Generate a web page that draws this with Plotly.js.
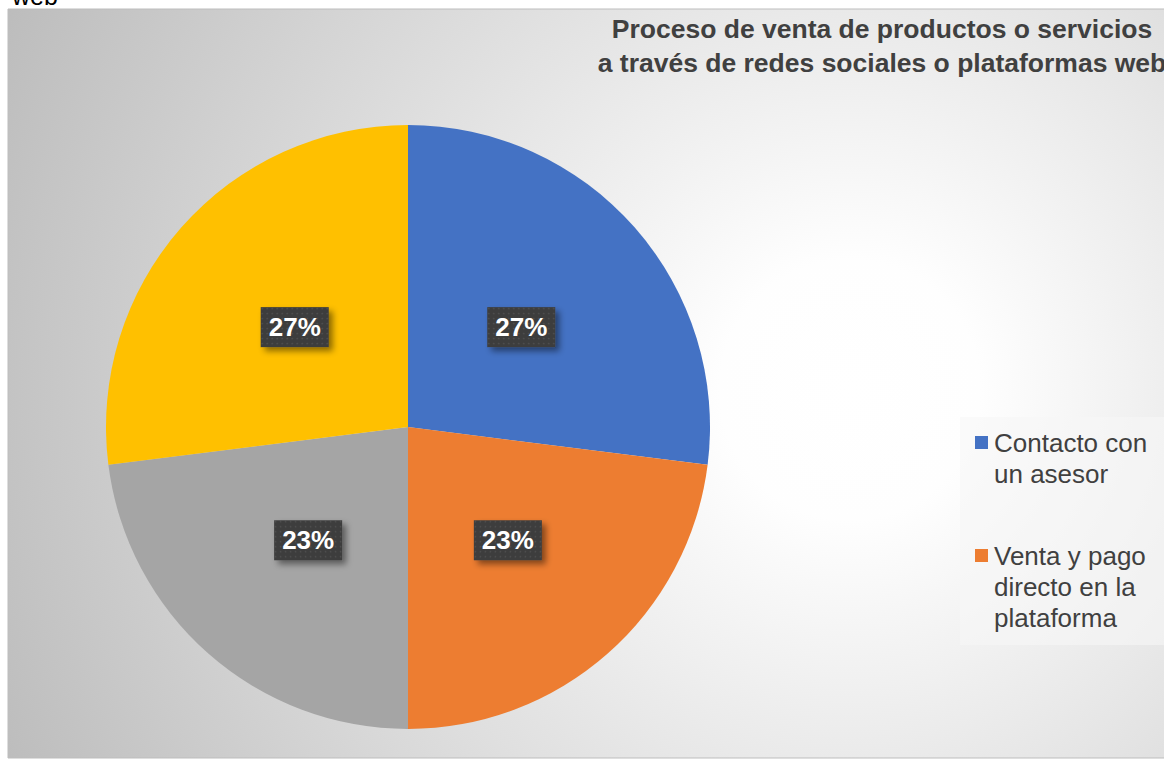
<!DOCTYPE html>
<html><head><meta charset="utf-8">
<script src="https://cdn.plot.ly/plotly-3.0.1.min.js"></script>
<style>html,body{margin:0;padding:0;background:#fff;overflow:hidden}#chart{width:1164px;height:760px}</style>
</head><body><div id="chart"></div>
<script>
// ---- data ----
const categories = ['Contacto con un asesor', 'Venta y pago directo en la plataforma', 'Otra modalidad', 'Ambas modalidades'];
const values = [27, 23, 23, 27];
const colors = ['#4472C4', '#ED7D31', '#A5A5A5', '#FFC000'];
const legendLines = [['Contacto con', 'un asesor'], ['Venta y pago', 'directo en la', 'plataforma']];
const titleText = 'Proceso de venta de productos o servicios<br>a través de redes sociales o plataformas web';
const clippedText = 'web';

// ---- layout helpers (pixels -> paper) ----
const W = 1164, H = 760;
const px = x => x / W;
const py = y => (H - y) / H;

// gradient background for the chart area
const fx0 = 8, fy0 = 9, fx1 = 1164, fy1 = 758;
const cv = document.createElement('canvas');
cv.width = fx1 - fx0; cv.height = fy1 - fy0;
const ctx = cv.getContext('2d');
const gcx = 850 - fx0, gcy = 390 - fy0;
const grad = ctx.createRadialGradient(gcx, gcy, 0, gcx, gcy, 930);
grad.addColorStop(0, '#ffffff');
grad.addColorStop(0.14, '#fefefe');
grad.addColorStop(0.5, '#e2e2e2');
grad.addColorStop(1, '#bcbcbc');
ctx.fillStyle = grad;
ctx.fillRect(0, 0, cv.width, cv.height);
const bgURL = cv.toDataURL('image/png');

const cx = 408, cy = 427, r = 302;
const FONT = 'Arial, Liberation Sans, sans-serif';

const data = [{
  type: 'pie',
  labels: categories,
  values: values,
  marker: {colors: colors, line: {width: 0}},
  sort: false,
  direction: 'clockwise',
  rotation: 0,
  textinfo: 'percent',
  textposition: 'inside',
  insidetextorientation: 'horizontal',
  insidetextfont: {family: FONT, size: 26, color: '#ffffff', weight: 'bold'},
  hoverinfo: 'none',
  domain: {x: [px(cx - r), px(cx + r)], y: [py(cy + r), py(cy - r)]}
}];

const annotations = [{
  text: clippedText, xref: 'paper', yref: 'paper', x: px(8.5), y: py(-4.5),
  xanchor: 'left', yanchor: 'middle', showarrow: false,
  font: {family: FONT, size: 25, color: '#000000'}
}];
const shapes = [
  {type: 'rect', xref: 'paper', yref: 'paper', x0: px(fx0), x1: 1.01, y0: py(fy1), y1: py(fy0),
   line: {color: '#bdbdbd', width: 1}, fillcolor: 'rgba(0,0,0,0)'},
  {type: 'rect', xref: 'paper', yref: 'paper', x0: px(960), x1: 1.01, y0: py(645), y1: py(417),
   line: {width: 0}, fillcolor: 'rgba(246,246,246,0.6)'}
];
let yLine = 443;
legendLines.forEach((lines, i) => {
  shapes.push({type: 'rect', xref: 'paper', yref: 'paper', x0: px(975), x1: px(988),
    y0: py(yLine + 6), y1: py(yLine - 7), line: {width: 0}, fillcolor: colors[i]});
  lines.forEach((t, j) => {
    annotations.push({text: t, xref: 'paper', yref: 'paper', x: px(992), y: py(yLine + j * 31),
      xanchor: 'left', yanchor: 'middle', showarrow: false, align: 'left',
      font: {family: FONT, size: 26, color: '#404040'}});
  });
  yLine += lines.length * 31 + 51;
});

const layout = {
  width: W, height: H,
  margin: {l: 0, r: 0, t: 0, b: 0},
  paper_bgcolor: '#ffffff',
  showlegend: false,
  title: {text: titleText, x: px(882), xanchor: 'center', xref: 'paper',
    y: py(37.5), yref: 'container', yanchor: 'middle',
    font: {family: FONT, size: 26.5, color: '#404040', weight: 'bold'}},
  images: [{source: bgURL, xref: 'paper', yref: 'paper', x: px(fx0), y: py(fy0),
    sizex: px(fx1) - px(fx0), sizey: py(fy0) - py(fy1), sizing: 'stretch',
    xanchor: 'left', yanchor: 'top', layer: 'below'}],
  shapes: shapes,
  annotations: annotations
};

const gd = document.getElementById('chart');
Plotly.newPlot(gd, data, layout, {staticPlot: true, displayModeBar: false}).then(addBoxes);

function addBoxes() {
  const NS = 'http://www.w3.org/2000/svg';
  const svg = gd.querySelector('svg.main-svg');
  let defs = svg.querySelector('defs');
  if (!defs) { defs = document.createElementNS(NS, 'defs'); svg.insertBefore(defs, svg.firstChild); }
  const pat = document.createElementNS(NS, 'pattern');
  pat.setAttribute('id', 'lbldots'); pat.setAttribute('width', '5'); pat.setAttribute('height', '5');
  pat.setAttribute('patternUnits', 'userSpaceOnUse');
  const pr = document.createElementNS(NS, 'rect');
  pr.setAttribute('width', '5'); pr.setAttribute('height', '5'); pr.setAttribute('fill', '#3d3d3d');
  const pc = document.createElementNS(NS, 'circle');
  pc.setAttribute('cx', '2.5'); pc.setAttribute('cy', '2.5'); pc.setAttribute('r', '0.8'); pc.setAttribute('fill', '#555555');
  pat.appendChild(pr); pat.appendChild(pc); defs.appendChild(pat);
  const flt = document.createElementNS(NS, 'filter');
  flt.setAttribute('id', 'lblshadow'); flt.setAttribute('x', '-30%'); flt.setAttribute('y', '-30%');
  flt.setAttribute('width', '170%'); flt.setAttribute('height', '170%');
  const ds = document.createElementNS(NS, 'feDropShadow');
  ds.setAttribute('dx', '4'); ds.setAttribute('dy', '4'); ds.setAttribute('stdDeviation', '3');
  ds.setAttribute('flood-color', '#000'); ds.setAttribute('flood-opacity', '0.45');
  flt.appendChild(ds); defs.appendChild(flt);

  // pie geometry as computed by Plotly
  const cd0 = (gd.calcdata && gd.calcdata[0] && gd.calcdata[0][0]) || {};
  const pcx = cd0.cx != null ? cd0.cx : cx;
  const pcy = cd0.cy != null ? cd0.cy : cy;
  const prr = cd0.r != null ? cd0.r : r;
  const svgRect = svg.getBoundingClientRect();

  gd.querySelectorAll('g.slicetext').forEach(g => {
    const t = g.querySelector('text');
    if (!t) return;
    const bb = t.getBBox();
    const rect = document.createElementNS(NS, 'rect');
    rect.setAttribute('x', bb.x - 8); rect.setAttribute('y', bb.y - 5);
    rect.setAttribute('width', bb.width + 16); rect.setAttribute('height', bb.height + 10);
    rect.setAttribute('fill', 'url(#lbldots)');
    rect.setAttribute('filter', 'url(#lblshadow)');
    const tr = t.getAttribute('transform');
    if (tr) rect.setAttribute('transform', tr);
    g.insertBefore(rect, t);
    // move label to half radius along its own direction (Excel "center" placement)
    const cr = t.getBoundingClientRect();
    const mx = cr.left + cr.width / 2 - svgRect.left;
    const my = cr.top + cr.height / 2 - svgRect.top;
    const vx = mx - pcx, vy = my - pcy;
    const d = Math.hypot(vx, vy);
    if (d > 0) {
      const k = (0.5 * prr) / d - 1;
      const old = g.getAttribute('transform') || '';
      g.setAttribute('transform', 'translate(' + (vx * k) + ',' + (vy * k) + ') ' + old);
    }
  });
}
</script>
</body></html>
